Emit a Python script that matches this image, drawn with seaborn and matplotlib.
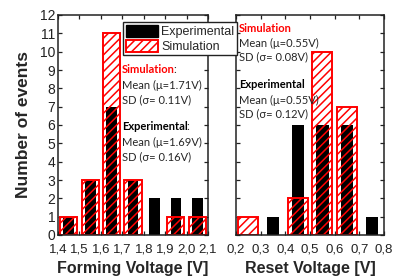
import numpy as np
import seaborn as sns
import matplotlib.pyplot as plt
from matplotlib.ticker import MultipleLocator, FuncFormatter
from matplotlib.patches import Patch

# forming voltage histogram (bin centres, counts)
forming_exp_v = [1.45, 1.55, 1.65, 1.75, 1.85, 1.95, 2.05]
forming_exp_n = [1, 3, 7, 3, 2, 2, 2]
forming_sim_v = [1.45, 1.55, 1.65, 1.75, 1.95, 2.05]
forming_sim_n = [1, 3, 11, 3, 1, 1]

# reset voltage histogram
reset_exp_v = [0.35, 0.45, 0.55, 0.65, 0.75]
reset_exp_n = [1, 6, 6, 6, 1]
reset_sim_v = [0.25, 0.45, 0.55, 0.65]
reset_sim_n = [1, 2, 10, 7]

forming_stats = {"sim": ("1.71", "0.11"), "exp": ("1.69", "0.16")}
reset_stats = {"sim": ("0.55", "0.08"), "exp": ("0.55", "0.12")}

sns.set_style("ticks")
plt.rcParams['font.family'] = ['Liberation Sans', 'DejaVu Sans']
plt.rcParams['hatch.linewidth'] = 1.1

W, H = 395, 279
fig = plt.figure(figsize=(W / 100, H / 100), dpi=100)
ax1 = fig.add_axes([58 / W, 1 - 235 / H, 150 / W, 220 / H])
ax2 = fig.add_axes([236 / W, 1 - 235 / H, 148 / W, 220 / H])

comma = FuncFormatter(lambda v, p: f"{v:.1f}".replace('.', ','))


def draw_panel(ax, ev, en, sv, sn, xlim):
    sns.barplot(x=ev, y=en, native_scale=True, orient='x', width=0.5,
                color='black', saturation=1, errorbar=None, ax=ax,
                linewidth=0)
    n_before = len(ax.patches)
    sns.barplot(x=sv, y=sn, native_scale=True, orient='x', width=0.8,
                color='white', saturation=1, errorbar=None, ax=ax)
    for p in ax.patches[n_before:]:
        p.set_facecolor('none')
        p.set_edgecolor('red')
        p.set_linewidth(1.4)
        p.set_hatch('////')
    ax.set_xlim(*xlim)
    ax.set_ylim(0, 12)
    ax.xaxis.set_major_locator(MultipleLocator(0.1))
    ax.xaxis.set_major_formatter(comma)
    ax.yaxis.set_major_locator(MultipleLocator(1))
    ax.tick_params(direction='in', top=True, right=True, length=3,
                   width=0.9, labelsize=9.5, colors='#222222')
    ax.tick_params(axis='x', pad=6)
    ax.tick_params(axis='y', pad=2, labelsize=10)
    for s in ax.spines.values():
        s.set_linewidth(1.1)
        s.set_color('#222222')


draw_panel(ax1, forming_exp_v, forming_exp_n, forming_sim_v, forming_sim_n, (1.4, 2.1))
draw_panel(ax2, reset_exp_v, reset_exp_n, reset_sim_v, reset_sim_n, (0.2, 0.8))
ax2.tick_params(labelleft=False)

ax1.set_xlabel("Forming Voltage [V]", fontsize=11.5, fontweight='bold', labelpad=4)
ax2.set_xlabel("Reset Voltage [V]", fontsize=11.5, fontweight='bold', labelpad=4)
ax1.set_ylabel("Number of events", fontsize=12.5, fontweight='bold', labelpad=6)

fam = ['Lato', 'DejaVu Sans']
fs = 8


def stats_block(x, ys, stats):
    rows = [("Simulation", 'red', stats["sim"]), ("Experimental", 'black', stats["exp"])]
    for i, (name, col, (mu, sd)) in enumerate(rows):
        y0, y1, y2 = ys[3 * i:3 * i + 3]
        t = fig.text(x / W, 1 - y0 / H, name, color=col, fontweight='bold',
                     fontsize=fs, family=fam, va='center', zorder=5)
        ax1.annotate(":", xy=(1, 0), xycoords=t, xytext=(-1.2, 0),
                     textcoords='offset points', va='bottom',
                     fontsize=fs, family=fam, annotation_clip=False)
        fig.text(x / W, 1 - y1 / H, f"Mean (\u03bc={mu}V)", fontsize=fs,
                 family=fam, va='center')
        fig.text(x / W, 1 - y2 / H, f"SD (\u03c3= {sd}V)", fontsize=fs,
                 family=fam, va='center')


stats_block(122, [70, 85, 100, 127, 142, 157], forming_stats)
stats_block(239, [28, 43, 57, 85, 100, 114], reset_stats)

handles = [Patch(facecolor='black', edgecolor='black', label='Experimental'),
           Patch(facecolor='white', edgecolor='red', hatch='////', linewidth=1.4,
                 label='Simulation')]
leg = fig.legend(handles=handles, loc='upper left',
                 bbox_to_anchor=(123 / W, 1 - 22 / H), fontsize=9,
                 frameon=True, fancybox=False, edgecolor='#222222', framealpha=1,
                 borderaxespad=0, borderpad=0.2, handlelength=2.6,
                 handleheight=1.1, handletextpad=0.25, labelspacing=0.15)
leg.get_frame().set_linewidth(1.0)

fig.savefig("out.png", dpi=100)
